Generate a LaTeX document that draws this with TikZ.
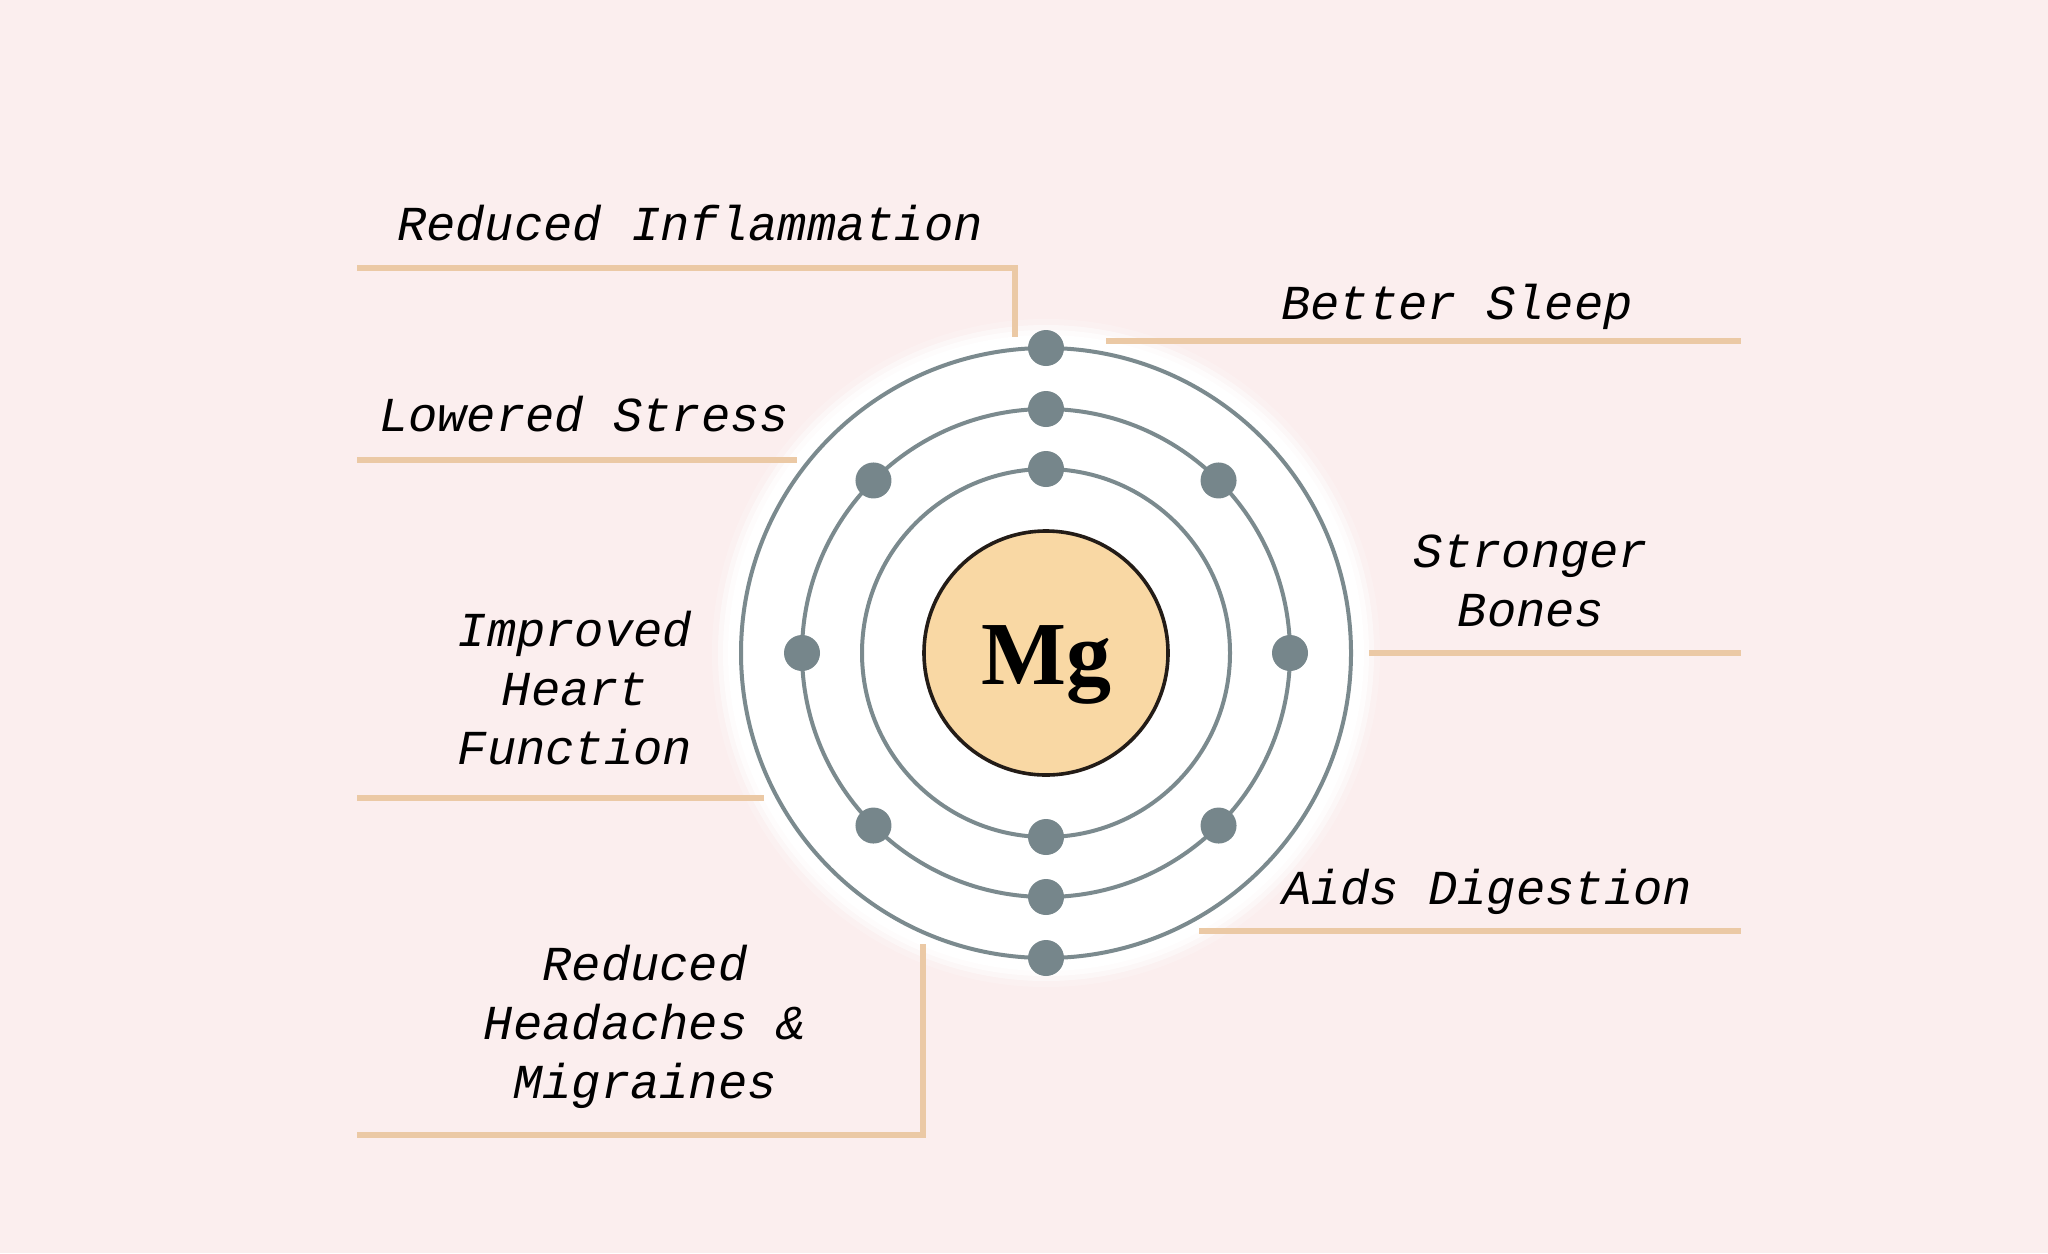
\documentclass[tikz,border=0pt]{standalone}
\usepackage{fontspec}
\setmainfont{Liberation Serif}
\newfontfamily\labelfont{Liberation Mono}
\definecolor{bg}{HTML}{FBEEEE}
\definecolor{tanc}{HTML}{EBC9A5}
\definecolor{orbitgray}{HTML}{7B8A8E}
\definecolor{elecgray}{HTML}{76868B}
\definecolor{nucleusc}{HTML}{F9D8A4}
\definecolor{nucborder}{HTML}{231C17}
\begin{document}
\begin{tikzpicture}[x=0.5pt,y=-0.5pt,
  lbl/.style={font=\labelfont\itshape\fontsize{24.4}{29.5}\selectfont, align=center, inner sep=0pt, anchor=base},
  tanline/.style={draw=tanc, line width=2.8pt},
  orbit/.style={draw=orbitgray, line width=2pt},
  electron/.style={circle, fill=elecgray, minimum size=18pt, inner sep=0pt}]
\fill[bg] (0,0) rectangle (2048,1253);
\useasboundingbox (0,0) rectangle (2048,1253);

% atom
\coordinate (C) at (1046,653);
\foreach \r/\o in {167/0.2,164/0.45,161.5/0.75}{\fill[white,opacity=\o] (C) circle[radius=\r pt];}
\fill[white] (C) circle[radius=159pt];
\draw[orbit] (C) circle[radius=92pt];
\draw[orbit] (C) circle[radius=122pt];
\draw[orbit] (C) circle[radius=152.5pt];
\node[circle, fill=nucleusc, draw=nucborder, line width=1.8pt, minimum size=122pt, inner sep=0pt] (nuc) at (C) {};
\node[font=\bfseries\fontsize{45}{50}\selectfont, inner sep=0pt, anchor=base] (mg) at (1046,684) {Mg};

% electrons
\node[electron] (o1) at ([shift={(90:152.5pt)}]C) {};
\node[electron] (o2) at ([shift={(-90:152.5pt)}]C) {};
\foreach \a in {0,45,...,315}{\node[electron] (m\a) at ([shift={(\a:122pt)}]C) {};}
\node[electron] (i1) at ([shift={(90:92pt)}]C) {};
\node[electron] (i2) at ([shift={(-90:92pt)}]C) {};

% labels (anchor base = baseline of the last line)
\node[lbl] (t1) at (690,240) {Reduced Inflammation};
\node[lbl] (t2) at (1457,319) {Better Sleep};
\node[lbl] (t3) at (584,431) {Lowered Stress};
\node[lbl] (t4) at (1531,626) {Stronger\\Bones};
\node[lbl] (t5) at (575,764) {Improved\\Heart\\Function};
\node[lbl] (t6) at (1487,904) {Aids Digestion};
\node[lbl] (t7) at (645,1098) {Reduced\\Headaches \&\\Migraines};

% tan lines
\coordinate (a1) at (357,268); \coordinate (a2) at (1015,268); \coordinate (a3) at (1015,337);
\draw[tanline] (a1) -- (a2) -- (a3);
\coordinate (b1) at (1106,341); \coordinate (b2) at (1741,341);
\draw[tanline] (b1) -- (b2);
\coordinate (c1) at (357,460); \coordinate (c2) at (797,460);
\draw[tanline] (c1) -- (c2);
\coordinate (d1) at (1369,653); \coordinate (d2) at (1741,653);
\draw[tanline] (d1) -- (d2);
\coordinate (e1) at (357,798); \coordinate (e2) at (764,798);
\draw[tanline] (e1) -- (e2);
\coordinate (f1) at (1199,931); \coordinate (f2) at (1741,931);
\draw[tanline] (f1) -- (f2);
\coordinate (g1) at (357,1135); \coordinate (g2) at (923,1135); \coordinate (g3) at (923,944);
\draw[tanline] (g1) -- (g2) -- (g3);
\end{tikzpicture}
\end{document}
